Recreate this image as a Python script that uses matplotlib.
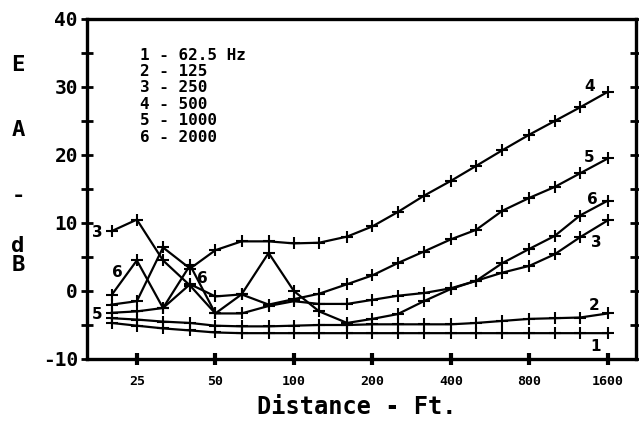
import matplotlib
matplotlib.use("Agg")
import matplotlib.pyplot as plt
from matplotlib.ticker import FixedLocator, NullLocator, NullFormatter

# One-third-octave measurement distances (ft)
distance_ft = [20, 25, 31.5, 40, 50, 63, 80, 100, 125, 160, 200, 250, 315,
               400, 500, 630, 800, 1000, 1250, 1600]

# Excess attenuation (dB) per octave band
ea_62_5 = [-4.7, -5.1, -5.5, -5.8, -6.1, -6.2, -6.2, -6.2, -6.2, -6.2, -6.2,
           -6.2, -6.2, -6.2, -6.2, -6.2, -6.2, -6.2, -6.2, -6.2]
ea_125 = [-4.0, -4.2, -4.5, -4.7, -5.1, -5.2, -5.2, -5.1, -5.0, -5.0, -4.9,
          -4.9, -4.9, -4.9, -4.7, -4.4, -4.1, -4.0, -3.9, -3.3]
ea_250 = [8.8, 10.5, 4.5, 0.8, -3.3, -3.3, -2.2, -1.5, -1.9, -1.9, -1.3,
          -0.7, -0.3, 0.4, 1.5, 2.7, 3.7, 5.4, 7.9, 10.4]
ea_500 = [-2.0, -1.5, 6.4, 3.3, 6.0, 7.3, 7.3, 7.0, 7.1, 8.0, 9.5, 11.6,
          14.0, 16.2, 18.4, 20.7, 23.0, 25.0, 27.0, 29.3]
ea_1000 = [-3.2, -3.0, -2.5, 1.0, -0.8, -0.5, -2.0, -1.2, -0.4, 1.0, 2.3,
           4.1, 5.8, 7.6, 9.0, 11.8, 13.7, 15.3, 17.3, 19.5]
ea_2000 = [-0.6, 4.5, -2.5, 3.8, -3.3, -0.5, 5.6, 0.0, -3.0, -4.7, -4.1,
           -3.4, -1.5, 0.3, 1.5, 4.1, 6.2, 8.1, 11.1, 13.3]

series = [ea_62_5, ea_125, ea_250, ea_500, ea_1000, ea_2000]

legend_lines = ["1 - 62.5 Hz", "2 - 125", "3 - 250", "4 - 500",
                "5 - 1000", "6 - 2000"]

x_ticks = [25, 50, 100, 200, 400, 800, 1600]
x_tick_labels = ["25", "50", "100", "200", "400", "800", "1600"]
y_ticks = [-10, 0, 10, 20, 30, 40]
y_tick_labels = ["-10", "0", "10", "20", "30", "40"]

# Curve number tags: (text, distance, dB)
curve_tags = [("4", 1360, 30.0), ("5", 1360, 19.7), ("6", 1390, 13.5),
              ("3", 1450, 7.1), ("2", 1415, -2.1), ("1", 1430, -8.1),
              ("3", 17.6, 8.6), ("6", 21.1, 2.7), ("5", 17.6, -3.4),
              ("6", 44.4, 1.8)]

W, H = 639, 421
fig = plt.figure(figsize=(W / 100, H / 100), dpi=100)
fig.patch.set_facecolor("white")
ax = fig.add_axes([87 / W, 1 - 359 / H, (636 - 87) / W, (359 - 19) / H])

mono = "DejaVu Sans Mono"

for ys in series:
    ax.plot(distance_ft, ys, color="black", lw=1.6, marker="+",
            markersize=9, markeredgewidth=1.5, solid_joinstyle="round")

ax.set_xscale("log", base=2)
ax.set_xlim(16.1, 2050)
ax.set_ylim(-10, 40)

ax.xaxis.set_major_locator(FixedLocator(x_ticks))
ax.set_xticklabels(x_tick_labels)
ax.xaxis.set_minor_locator(NullLocator())
ax.xaxis.set_minor_formatter(NullFormatter())
ax.set_yticks(y_ticks)
ax.set_yticklabels(y_tick_labels)
ax.yaxis.set_minor_locator(FixedLocator([-5, 5, 15, 25, 35]))

for s in ax.spines.values():
    s.set_linewidth(2.4)

ax.tick_params(axis="y", which="both", direction="inout", length=9, width=2,
               right=True, labelright=False, pad=2)
ax.tick_params(axis="x", which="major", direction="inout", length=9, width=3,
               pad=7)
for lab in ax.get_yticklabels():
    lab.set_fontfamily(mono)
    lab.set_fontweight("bold")
    lab.set_fontsize(14)
for lab in ax.get_xticklabels():
    lab.set_fontfamily(mono)
    lab.set_fontweight("bold")
    lab.set_fontsize(9.5)

# Legend block
for i, line in enumerate(legend_lines):
    fig.text(140 / W, 1 - (55 + 16.4 * i) / H, line, family=mono,
             fontweight="bold", fontsize=11.5, va="center", ha="left")

for txt, xd, yd in curve_tags:
    ax.text(xd, yd, txt, family="DejaVu Sans", fontweight="bold",
            fontsize=11, ha="center", va="center")

# Stacked vertical axis title
for ch, py in [("E", 65), ("A", 130), ("-", 196), ("d", 246), ("B", 265)]:
    fig.text(18 / W, 1 - py / H, ch, family=mono, fontweight="bold",
             fontsize=16, ha="center", va="center")

fig.text(357 / W, 1 - 407 / H, "Distance - Ft.", family=mono,
         fontweight="bold", fontsize=17, ha="center", va="center")

fig.savefig("out.png", dpi=100, facecolor="white")
